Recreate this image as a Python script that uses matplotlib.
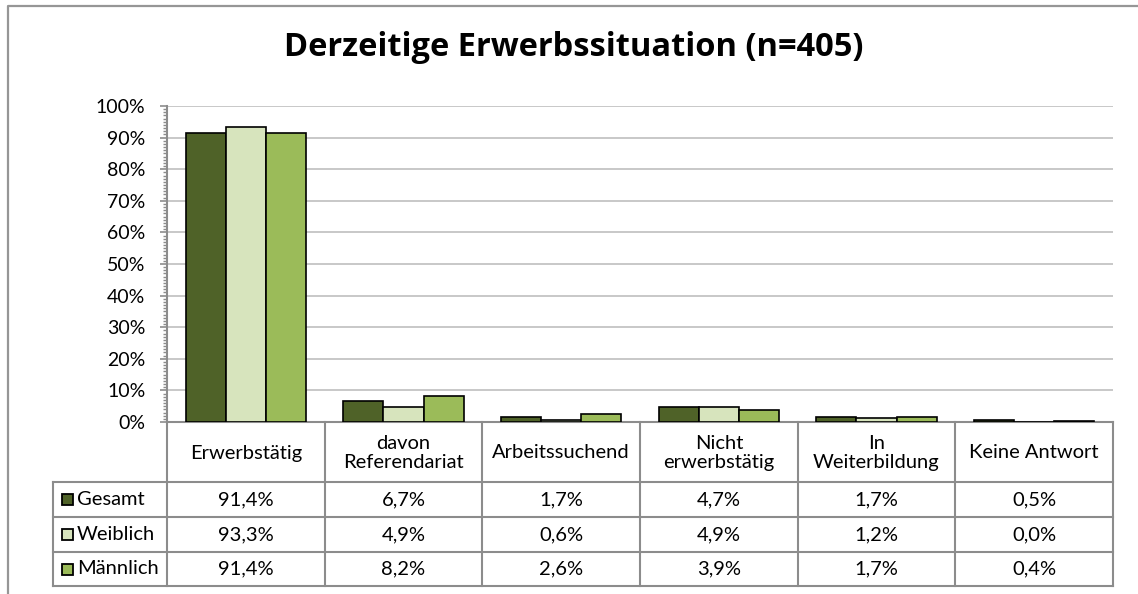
import matplotlib.pyplot as plt
import numpy as np

categories = ["Erwerbstätig", "davon\nReferendariat", "Arbeitssuchend",
              "Nicht\nerwerbstätig", "In\nWeiterbildung", "Keine Antwort"]
series_names = ["Gesamt", "Weiblich", "Männlich"]
gesamt = [91.4, 6.7, 1.7, 4.7, 1.7, 0.5]
weiblich = [93.3, 4.9, 0.6, 4.9, 1.2, 0.0]
maennlich = [91.4, 8.2, 2.6, 3.9, 1.7, 0.4]
colors = ["#4F6228", "#D7E4BD", "#9BBB59"]

plt.rcParams["font.family"] = ["Lato", "DejaVu Sans"]

W, H = 1138, 594
fig = plt.figure(figsize=(W / 100, H / 100), dpi=100)


def fx(px):
    return px / W


def fy(py):
    return 1 - py / H


# outer chart frame (only top and left edge visible in the crop)
fig.add_artist(plt.Line2D([fx(8), fx(8), fx(1140)],
                          [fy(600), fy(6), fy(6)],
                          color="#969696", lw=1.6))

x0, x1, ytop, ybot = 167, 1113, 106, 422
ax = fig.add_axes([fx(x0), fy(ybot), fx(x1 - x0), (ybot - ytop) / H])

n = len(categories)
x = np.arange(n)
bw = 0.254
for i, vals in enumerate([gesamt, weiblich, maennlich]):
    ax.bar(x + (i - 1) * bw, vals, bw, color=colors[i], edgecolor="black",
           linewidth=1.2, zorder=3, label=series_names[i])

ax.set_xlim(-0.5, n - 0.5)
ax.set_ylim(0, 100)
ax.set_yticks(np.arange(0, 101, 10))
ax.set_yticklabels([f"{v}%" for v in range(0, 101, 10)], fontsize=14)
ax.set_yticks(np.arange(0, 101, 1), minor=True)
ax.tick_params(axis="y", which="major", length=5, width=1.2, color="#8C8C8C", pad=10.5)
ax.tick_params(axis="y", which="minor", length=3, width=1, color="#8C8C8C")
ax.set_xticks([])
ax.grid(axis="y", color="#BFBFBF", lw=1.2, zorder=0)
for s in ["top", "right"]:
    ax.spines[s].set_visible(False)
for s in ["left", "bottom"]:
    ax.spines[s].set_color("#8C8C8C")
    ax.spines[s].set_linewidth(1.5)

fig.text(fx(574), fy(48), "Derzeitige Erwerbssituation (n=405)",
         ha="center", va="center", fontsize=23.5, fontweight="bold",
         family=["Open Sans", "DejaVu Sans"])

# data table below the axis
row_y = [422, 482, 517, 552, 586]
tleft = 53
col_w = (x1 - x0) / n
lc = "#8C8C8C"
for yy in row_y[1:]:
    fig.add_artist(plt.Line2D([fx(tleft), fx(x1)], [fy(yy), fy(yy)], color=lc, lw=1.5))
fig.add_artist(plt.Line2D([fx(tleft), fx(tleft)], [fy(row_y[1]), fy(row_y[-1])], color=lc, lw=1.5))
for j in range(n + 1):
    xx = x0 + j * col_w
    fig.add_artist(plt.Line2D([fx(xx), fx(xx)], [fy(row_y[0]), fy(row_y[-1])], color=lc, lw=1.5))

for j, cat in enumerate(categories):
    cx = x0 + (j + 0.5) * col_w
    fig.text(fx(cx), fy((row_y[0] + row_y[1]) / 2 + 1), cat, ha="center", va="center",
             fontsize=14.5, linespacing=1.2)

for i, vals in enumerate([gesamt, weiblich, maennlich]):
    cy = (row_y[i + 1] + row_y[i + 2]) / 2
    fig.add_artist(plt.Rectangle((fx(62), fy(cy + 5.5)), fx(11), 11 / H,
                                 facecolor=colors[i], edgecolor="black", lw=1.3))
    fig.text(fx(77), fy(cy), series_names[i], ha="left", va="center", fontsize=14.5)
    for j, v in enumerate(vals):
        cx = x0 + (j + 0.5) * col_w
        fig.text(fx(cx), fy(cy), f"{v:.1f}%".replace(".", ","), ha="center",
                 va="center", fontsize=14.5)

fig.savefig("out.png", dpi=100)
